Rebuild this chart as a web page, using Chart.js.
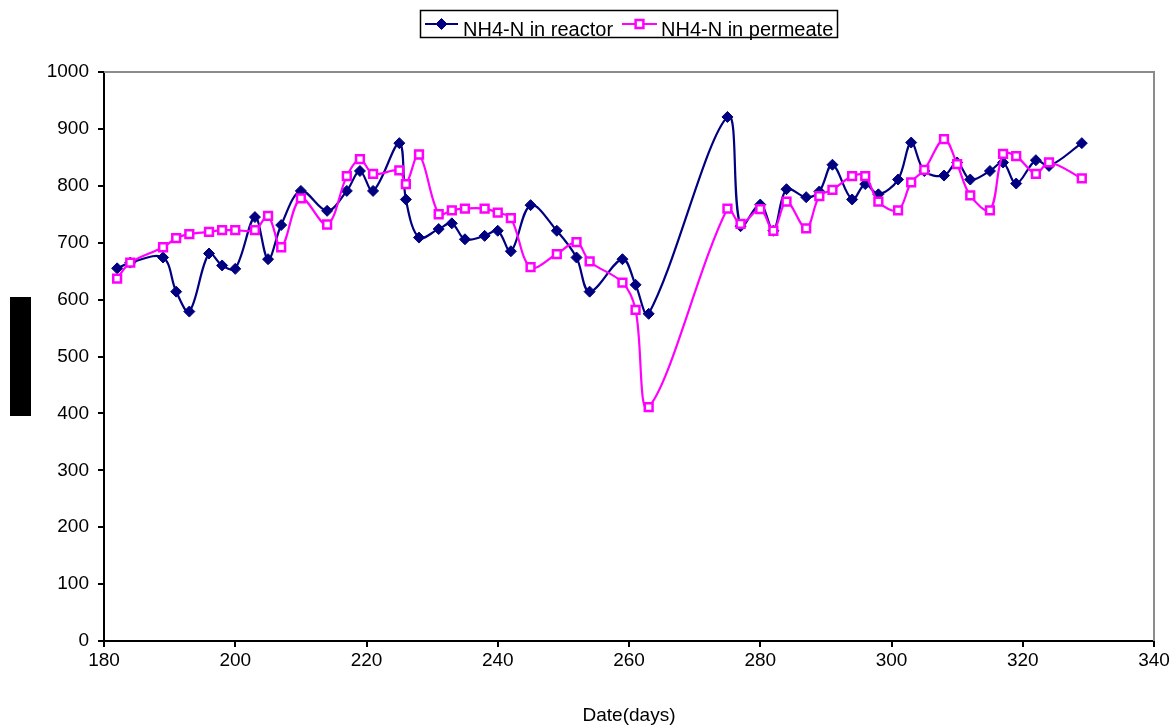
<!DOCTYPE html>
<html>
<head>
<meta charset="utf-8">
<title>NH4-N</title>
<script src="https://cdn.jsdelivr.net/npm/chart.js@4.4.1/dist/chart.umd.min.js"></script>
<style>
  body { margin: 0; background: #fff; }
  #wrap { width: 1175px; height: 727px; position: relative; }
</style>
</head>
<body>
<div id="wrap"><canvas id="nh4Chart"></canvas></div>
<script>
  "use strict";

  // sampling days (x)
  var days = [182, 184, 189, 191, 193, 196, 198, 200, 203, 205, 207, 210, 214, 217, 219, 221, 225, 226, 228, 231,
    233, 235, 238, 240, 242, 245, 249, 252, 254, 259, 261, 263, 275, 277, 280, 282, 284, 287, 289, 291,
    294, 296, 298, 301, 303, 305, 308, 310, 312, 315, 317, 319, 322, 324, 329];

  // NH4-N in reactor
  var reactor = [655, 665, 674, 614, 579, 681, 660, 654, 745, 671, 731, 791, 756, 791, 826, 791, 875, 776, 709, 724,
    734, 706, 712, 721, 685, 766, 721, 674, 614, 671, 626, 575, 921, 729, 767, 721, 794, 780, 790, 837,
    776, 803, 785, 811, 876, 826, 818, 841, 811, 826, 841, 804, 845, 835, 875];

  // NH4-N in permeate
  var permeate = [637, 665, 692, 708, 715, 719, 722, 722, 722, 747, 692, 778, 732, 817, 847, 821, 827, 803, 855, 750,
    757, 760, 760, 753, 743, 657, 680, 701, 667, 630, 582, 411, 760, 733, 759, 721, 772, 725, 782, 793,
    817, 817, 772, 757, 806, 828, 882, 838, 783, 757, 856, 852, 821, 841, 813];

  var seriesLabels = ['NH4-N in reactor', 'NH4-N in permeate'];
  var xTitle = 'Date(days)';

  function toPoints(xs, ys) {
    var out = [];
    for (var i = 0; i < xs.length; i++) out.push({ x: xs[i], y: ys[i] });
    return out;
  }

  var FONT = '"Liberation Sans", Arial, sans-serif';

  // frame, legend box and the black block on the left
  var decorPlugin = {
    id: 'decor',
    afterDraw: function(chart) {
      var ctx = chart.ctx;
      var a = chart.chartArea;
      ctx.save();
      // grey frame top + right
      ctx.strokeStyle = '#8c8c8c';
      ctx.lineWidth = 2;
      ctx.beginPath();
      ctx.moveTo(a.left, a.top);
      ctx.lineTo(a.right, a.top);
      ctx.lineTo(a.right, a.bottom);
      ctx.stroke();

      // black block
      ctx.fillStyle = '#000';
      ctx.fillRect(10, 297, 21, 119);

      // legend
      ctx.strokeStyle = '#000';
      ctx.lineWidth = 1.5;
      ctx.strokeRect(420.5, 10.5, 417, 27);
      ctx.font = '20px ' + FONT;
      ctx.textBaseline = 'alphabetic';
      ctx.textAlign = 'left';
      var items = [
        { x0: 425, x1: 458, tx: 463 },
        { x0: 622, x1: 657, tx: 661 }
      ];
      chart.data.datasets.forEach(function(ds, i) {
        var it = items[i];
        ctx.strokeStyle = ds.borderColor;
        ctx.lineWidth = 2;
        ctx.beginPath();
        ctx.moveTo(it.x0, 24);
        ctx.lineTo(it.x1, 24);
        ctx.stroke();
        ctx.fillStyle = ds.pointBackgroundColor;
        ctx.strokeStyle = ds.pointBorderColor;
        ctx.lineWidth = ds.pointBorderWidth;
        Chart.helpers.drawPoint(ctx, {
          pointStyle: ds.pointStyle,
          radius: ds.pointRadius,
          borderWidth: ds.pointBorderWidth,
          rotation: 0
        }, (it.x0 + it.x1) / 2, 24);
        ctx.fillStyle = '#000';
        ctx.fillText(ds.label, it.tx, 36);
      });
      ctx.restore();
    }
  };

  var ctx = document.getElementById('nh4Chart').getContext('2d');
  var chart = new Chart(ctx, {
    type: 'line',
    data: {
      datasets: [{
          label: seriesLabels[0],
          data: toPoints(days, reactor),
          order: 1,
          borderColor: '#000080',
          backgroundColor: '#000080',
          borderWidth: 2.2,
          tension: 0.35,
          pointStyle: 'rectRot',
          pointRadius: 5.5,
          pointBorderWidth: 1,
          pointBackgroundColor: '#000080',
          pointBorderColor: '#000080'
        },
        {
          label: seriesLabels[1],
          data: toPoints(days, permeate),
          order: 0,
          borderColor: '#ff00ff',
          backgroundColor: '#ff00ff',
          borderWidth: 2.2,
          tension: 0.35,
          pointStyle: 'rect',
          pointRadius: 5.5,
          pointBorderWidth: 2.5,
          pointBackgroundColor: '#ffffff',
          pointBorderColor: '#ff00ff'
        }
      ]
    },
    options: {
      responsive: true,
      maintainAspectRatio: false,
      animation: false,
      layout: { padding: { top: 72, right: 21, left: 0, bottom: 0 } },
      plugins: {
        legend: { display: false },
        tooltip: { enabled: false }
      },
      scales: {
        x: {
          type: 'linear',
          min: 180,
          max: 340,
          afterFit: function(scale) { scale.height = 86; },
          ticks: {
            stepSize: 20, color: '#000', padding: 2, font: { family: FONT, size: 19 },
            callback: function(v) { return String(v); }
          },
          grid: { drawOnChartArea: false, drawTicks: true, tickLength: 6, color: '#000', lineWidth: 2 },
          border: { color: '#000', width: 2 },
          title: {
            display: true,
            text: xTitle,
            color: '#000',
            padding: { top: 0, bottom: 0 },
            font: { family: FONT, size: 19 }
          }
        },
        y: {
          min: 0,
          max: 1000,
          afterFit: function(scale) { scale.width = 104; },
          ticks: {
            stepSize: 100, color: '#000', padding: 9, font: { family: FONT, size: 19 },
            callback: function(v) { return String(v); }
          },
          grid: { drawOnChartArea: false, drawTicks: true, tickLength: 6, color: '#000', lineWidth: 2 },
          border: { color: '#000', width: 2 }
        }
      }
    },
    plugins: [decorPlugin]
  });
</script>
</body>
</html>
